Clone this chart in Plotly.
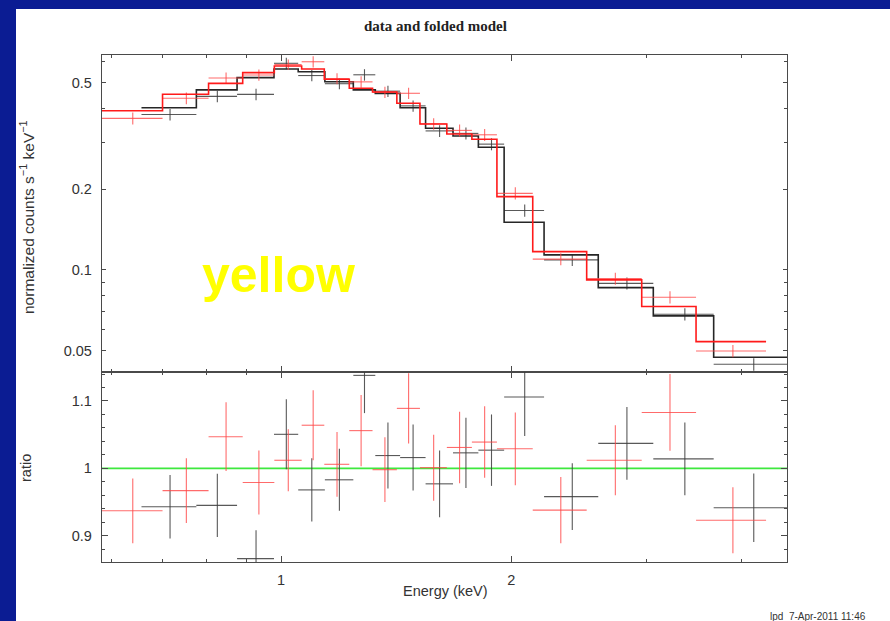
import math
import plotly.graph_objects as go

# ---- spectrum 1 (black): bin edges (keV), folded model, data/model ratio, ratio error
black_edges = [0.657, 0.775, 0.876, 0.979, 1.053, 1.141, 1.243, 1.328, 1.431, 1.545,
               1.678, 1.811, 1.957, 2.207, 2.598, 3.066, 3.677, 4.62]
black_model = [0.403, 0.470, 0.522, 0.562, 0.549, 0.504, 0.470, 0.456, 0.403, 0.338,
               0.316, 0.287, 0.1507, 0.1138, 0.0859, 0.0674, 0.0472]
black_ratio = [0.943, 0.945, 0.866, 1.0505, 0.968, 0.983, 1.138, 1.019, 1.016, 0.977,
               1.023, 1.027, 1.106, 0.958, 1.037, 1.014, 0.9415]
black_err = [0.047, 0.047, 0.042, 0.052, 0.047, 0.046, 0.056, 0.049, 0.049, 0.0495,
             0.052, 0.053, 0.058, 0.0495, 0.054, 0.054, 0.051]

# ---- spectrum 2 (red)
red_edges = [0.58, 0.700, 0.804, 0.891, 0.980, 1.064, 1.139, 1.228, 1.317, 1.417,
             1.519, 1.647, 1.776, 1.915, 2.133, 2.509, 2.961, 3.487, 4.305]
red_model = [0.3925, 0.4523, 0.497, 0.545, 0.577, 0.5623, 0.5145, 0.4766, 0.4615, 0.419,
             0.3505, 0.3217, 0.3074, 0.1877, 0.117, 0.0918, 0.073, 0.054]
red_ratio = [0.937, 0.967, 1.047, 0.979, 1.012, 1.064, 1.006, 1.056, 0.998, 1.089,
             1.001, 1.031, 1.039, 1.029, 0.938, 1.012, 1.083, 0.923]
red_err = [0.048, 0.048, 0.051, 0.0475, 0.046, 0.052, 0.048, 0.053, 0.048, 0.052,
           0.049, 0.053, 0.053, 0.054, 0.049, 0.052, 0.057, 0.049]

# ---- axes
energy_range = [0.5834, 4.585]
counts_range = [0.0416, 0.634]
ratio_range = [0.861, 1.143]
x_major = [1, 2]
x_minor = [0.6, 0.7, 0.8, 0.9, 3, 4]
counts_ticks = [0.05, 0.1, 0.2, 0.5]
counts_labels = ["0.05", "0.1", "0.2", "0.5"]
counts_minor = [0.06, 0.07, 0.08, 0.09, 0.3, 0.4, 0.6]
ratio_ticks = [0.9, 1.0, 1.1]
ratio_labels = ["0.9", "1", "1.1"]
unity = 1.0

W, H = 890, 621
SANS = "Liberation Sans, Arial, Helvetica, sans-serif"
AXIS_COLOR = "#4a4a4a"


def px(v, total):
    return v / total


def spectrum_traces(edges, model, ratio, err, model_color, data_color):
    centers = [(a + b) / 2 for a, b in zip(edges[:-1], edges[1:])]
    plus = [b - c for b, c in zip(edges[1:], centers)]
    minus = [c - a for a, c in zip(edges[:-1], centers)]
    counts = [r * m for r, m in zip(ratio, model)]
    counts_err = [e * m for e, m in zip(err, model)]
    marker = dict(size=1, opacity=0, color=data_color)
    out = []
    # data crosses, counts panel
    out.append(go.Scatter(
        x=centers, y=counts, mode="markers", marker=marker, xaxis="x", yaxis="y",
        error_x=dict(type="data", symmetric=False, array=plus, arrayminus=minus,
                     color=data_color, thickness=1.1, width=0),
        error_y=dict(type="data", array=counts_err, color=data_color, thickness=1.1, width=0),
        showlegend=False, hoverinfo="skip"))
    # folded model as a histogram step line
    out.append(go.Scatter(
        x=edges, y=list(model) + [model[-1]], mode="lines", line_shape="hv",
        line=dict(color=model_color, width=1.6), xaxis="x", yaxis="y",
        showlegend=False, hoverinfo="skip"))
    # ratio crosses
    out.append(go.Scatter(
        x=centers, y=ratio, mode="markers", marker=marker, xaxis="x2", yaxis="y2",
        error_x=dict(type="data", symmetric=False, array=plus, arrayminus=minus,
                     color=data_color, thickness=1.1, width=0),
        error_y=dict(type="data", array=err, color=data_color, thickness=1.1, width=0),
        showlegend=False, hoverinfo="skip"))
    return out


fig = go.Figure()
for t in spectrum_traces(black_edges, black_model, black_ratio, black_err,
                         "#262626", "rgba(60,60,60,0.85)"):
    fig.add_trace(t)
for t in spectrum_traces(red_edges, red_model, red_ratio, red_err,
                         "#ff1a1a", "rgba(255,70,70,0.8)"):
    fig.add_trace(t)

x_dom = [px(102, W), px(787, W)]
top_dom = [1 - px(372, H), 1 - px(55, H)]
bot_dom = [1 - px(562, H), 1 - px(372, H)]

common_axis = dict(showline=True, linecolor=AXIS_COLOR, linewidth=1.4, mirror="ticks",
                   ticks="inside", tickcolor=AXIS_COLOR, tickwidth=1.2, showgrid=False,
                   zeroline=False, tickfont=dict(family=SANS, size=14.5, color="#333333"))

xlog = [math.log10(energy_range[0]), math.log10(energy_range[1])]

fig.update_layout(
    width=W, height=H,
    margin=dict(l=0, r=0, t=0, b=0),
    paper_bgcolor="#0b1c93",
    plot_bgcolor="white",
    xaxis=dict(common_axis, domain=x_dom, type="log", range=xlog, anchor="y",
               tickvals=x_major, ticklen=6, showticklabels=False,
               minor=dict(tickvals=x_minor, ticklen=3, tickcolor=AXIS_COLOR, ticks="inside")),
    xaxis2=dict(common_axis, domain=x_dom, type="log", range=xlog, anchor="y2", matches="x",
                tickvals=x_major, ticktext=["1", "2"], ticklen=6, ticklabelstandoff=4,
                minor=dict(tickvals=x_minor, ticklen=3, tickcolor=AXIS_COLOR, ticks="inside")),
    yaxis=dict(common_axis, domain=top_dom, type="log", anchor="x",
               range=[math.log10(counts_range[0]), math.log10(counts_range[1])],
               tickvals=counts_ticks, ticktext=counts_labels, ticklen=4, ticklabelstandoff=6,
               minor=dict(tickvals=counts_minor, ticklen=3, tickcolor=AXIS_COLOR, ticks="inside")),
    yaxis2=dict(common_axis, domain=bot_dom, anchor="x2", range=ratio_range,
                tickvals=ratio_ticks, ticktext=ratio_labels, ticklen=6, ticklabelstandoff=6,
                minor=dict(dtick=0.02, tick0=0, ticklen=3, tickcolor=AXIS_COLOR, ticks="inside")),
    shapes=[
        # white slide area
        dict(type="rect", xref="paper", yref="paper", x0=px(16, W), x1=1,
             y0=0, y1=1 - px(9, H), fillcolor="white", line=dict(width=0), layer="below"),
        # unit ratio reference
        dict(type="line", xref="x2 domain", yref="y2", x0=0, x1=1, y0=unity, y1=unity,
             line=dict(color="#3ee83e", width=1.6), layer="below"),
    ],
    annotations=[
        dict(text="<b>data and folded model</b>", xref="paper", yref="paper",
             x=px(435, W), y=1 - px(26.5, H), showarrow=False, xanchor="center", yanchor="middle",
             font=dict(family="Liberation Serif, Times New Roman, serif", size=15, color="#222222")),
        dict(text="normalized counts s<sup>−1</sup> keV<sup>−1</sup>", xref="paper", yref="paper",
             x=px(27, W), y=1 - px(217, H), textangle=-90, showarrow=False,
             xanchor="center", yanchor="middle",
             font=dict(family=SANS, size=15.5, color="#333333")),
        dict(text="ratio", xref="paper", yref="paper", x=px(26, W), y=1 - px(468, H),
             textangle=-90, showarrow=False, xanchor="center", yanchor="middle",
             font=dict(family=SANS, size=14.5, color="#333333")),
        dict(text="Energy (keV)", xref="paper", yref="paper", x=px(445, W), y=1 - px(591, H),
             showarrow=False, xanchor="center", yanchor="middle",
             font=dict(family=SANS, size=14.5, color="#333333")),
        dict(text="lpd  7-Apr-2011 11:46", xref="paper", yref="paper", x=px(818, W),
             y=1 - px(616, H), showarrow=False, xanchor="center", yanchor="middle",
             font=dict(family=SANS, size=10, color="#333333")),
        dict(text="<b>yellow</b>", xref="paper", yref="paper", x=px(278, W), y=1 - px(275, H),
             showarrow=False, xanchor="center", yanchor="middle",
             font=dict(family=SANS, size=50, color="#ffff00")),
    ],
)

fig.write_html("out.html")
